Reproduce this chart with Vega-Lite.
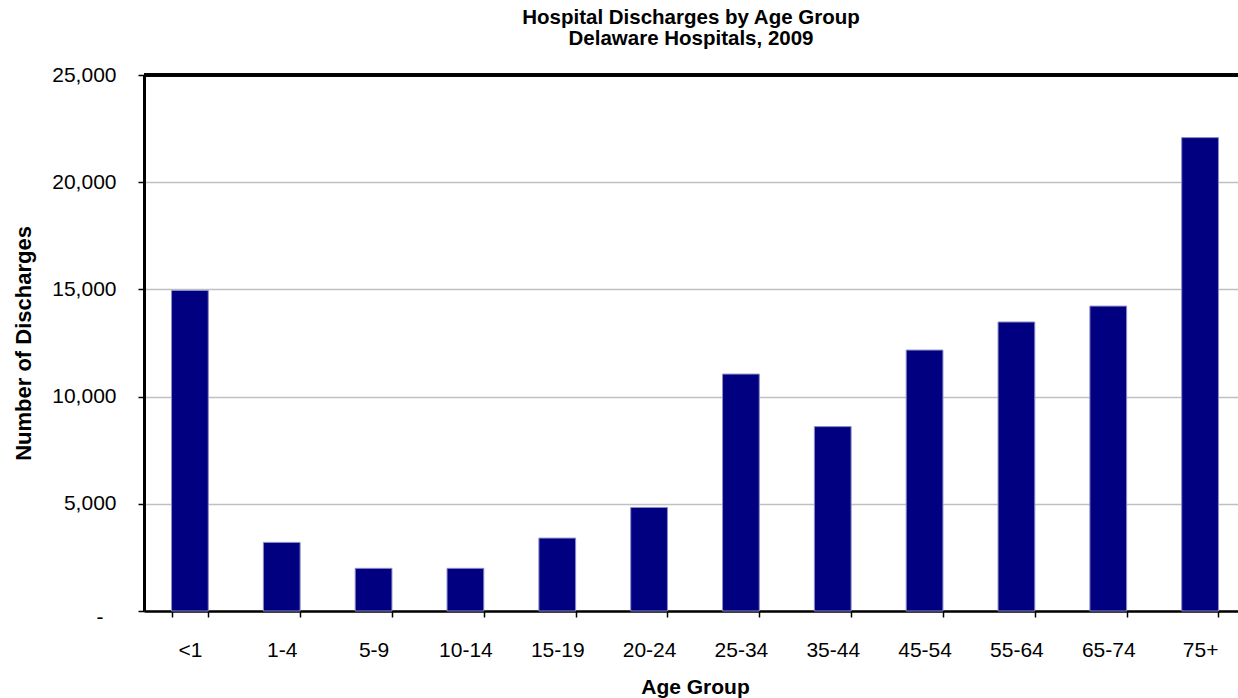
{
  "$schema": "https://vega.github.io/schema/vega-lite/v6.json",
  "autosize": "none",
  "padding": {"left": 144, "top": 75, "right": 0, "bottom": 87},
  "width": 1094,
  "height": 536,
  "background": "white",
  "title": {
    "text": ["Hospital Discharges by Age Group", "Delaware Hospitals, 2009"],
    "font": "Liberation Sans",
    "fontSize": 20.5,
    "fontWeight": "bold",
    "color": "black",
    "lineHeight": 21,
    "anchor": "middle",
    "offset": 15
  },
  "data": {
    "values": [
      {"age": "<1", "discharges": 14950},
      {"age": "1-4", "discharges": 3200},
      {"age": "5-9", "discharges": 1990},
      {"age": "10-14", "discharges": 1990},
      {"age": "15-19", "discharges": 3400},
      {"age": "20-24", "discharges": 4830},
      {"age": "25-34", "discharges": 11050},
      {"age": "35-44", "discharges": 8600},
      {"age": "45-54", "discharges": 12170},
      {"age": "55-64", "discharges": 13480},
      {"age": "65-74", "discharges": 14220},
      {"age": "75+", "discharges": 22080}
    ]
  },
  "layer": [
    {
      "mark": {"type": "bar", "color": "#000080", "stroke": "#8c8cc8", "strokeWidth": 1},
      "encoding": {
        "x": {
          "field": "age",
          "type": "nominal",
          "sort": null,
          "scale": {"paddingInner": 0.6, "paddingOuter": 0.3, "range": [0, 1102]},
          "axis": {
            "title": "Age Group",
            "titleFont": "Liberation Sans",
            "titleFontSize": 21,
            "titleFontWeight": "bold",
            "titleColor": "black",
            "titlePadding": 16,
            "labelFont": "Liberation Sans",
            "labelFontSize": 21,
            "labelColor": "black",
            "labelAngle": 0,
            "labelPadding": 22,
            "tickBand": "extent",
            "tickSize": 6,
            "tickColor": "black",
            "tickWidth": 1.5,
            "domainColor": "black",
            "domainWidth": 2.5
          }
        },
        "y": {
          "field": "discharges",
          "type": "quantitative",
          "scale": {"domain": [0, 25000], "nice": false},
          "axis": {
            "title": "Number of Discharges",
            "titleFont": "Liberation Sans",
            "titleFontSize": 22,
            "titleFontWeight": "bold",
            "titleColor": "black",
            "titlePadding": 16,
            "values": [0, 5000, 10000, 15000, 20000, 25000],
            "labelExpr": "datum.value == 0 ? '-' : format(datum.value, ',')",
            "labelFont": "Liberation Sans",
            "labelFontSize": 21,
            "labelColor": "black",
            "labelPadding": {"condition": {"test": "datum.value == 0", "value": 35}, "value": 22},
            "labelOffset": {"condition": {"test": "datum.value == 0", "value": 6}, "value": 0},
            "tickSize": 6,
            "tickColor": "black",
            "tickWidth": 1.5,
            "domainColor": "black",
            "domainWidth": 3,
            "grid": true,
            "gridColor": "#c0c0c0",
            "gridWidth": 1.5
          }
        }
      }
    },
    {
      "mark": {"type": "rule", "color": "black", "strokeWidth": 2.5},
      "encoding": {"y": {"datum": 25000}}
    }
  ],
  "config": {
    "view": {"stroke": null}
  }
}
